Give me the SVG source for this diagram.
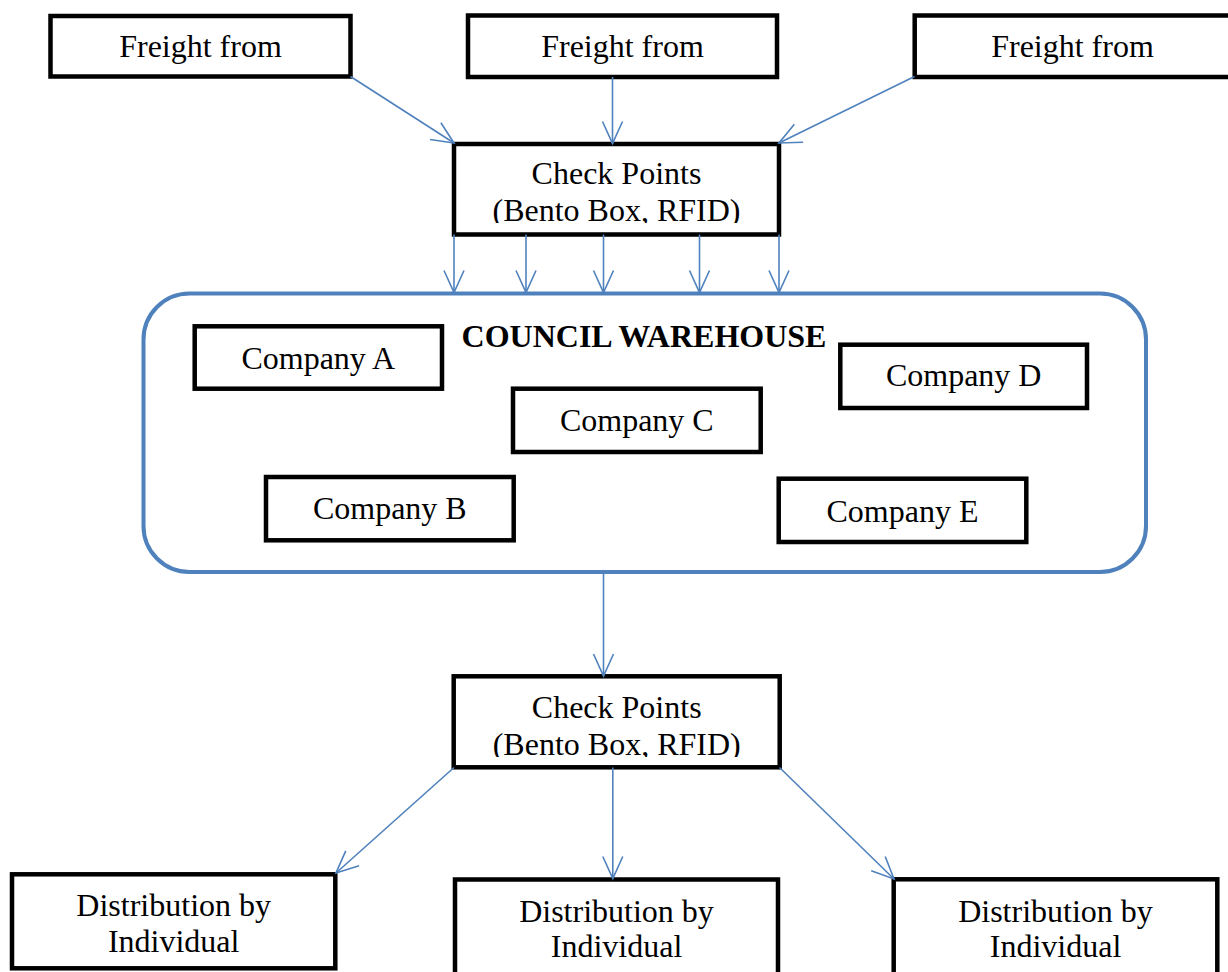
<svg xmlns="http://www.w3.org/2000/svg" width="1228" height="972" viewBox="0 0 1228 972">
<style>
.box{fill:#fff;stroke:#000;stroke-width:4.5}
.t{font-family:"Liberation Serif","Times New Roman",serif;font-size:32px;fill:#000;text-anchor:middle}
.tb{font-weight:bold}
.c{stroke:#4F81BD;stroke-width:1.6;fill:none;marker-end:url(#arr)}
</style>
<defs>
<marker id="arr" markerUnits="userSpaceOnUse" viewBox="-25 -13 27 26" refX="0" refY="0" markerWidth="27" markerHeight="26" orient="auto" overflow="visible">
<path d="M-22,-10 L0,0 L-22,10" fill="none" stroke="#4F81BD" stroke-width="1.6"/>
</marker>
<clipPath id="clip1"><rect x="456" y="146" width="321" height="77"/></clipPath>
<clipPath id="clip2"><rect x="456" y="678" width="321" height="79"/></clipPath>
</defs>
<rect width="1228" height="972" fill="#fff"/>

<g id="warehouse">
<rect x="143.5" y="293.5" width="1002.5" height="278.5" rx="46" fill="#fff" stroke="#4F81BD" stroke-width="4"/>
<text class="t tb" x="644" y="347">COUNCIL WAREHOUSE</text>
</g>

<g id="freight1"><rect class="box" x="50.5" y="16" width="300" height="60.5"/><text class="t" x="200.5" y="57">Freight from</text></g>
<g id="freight2"><rect class="box" x="468" y="15.5" width="309" height="61.5"/><text class="t" x="622.5" y="57">Freight from</text></g>
<g id="freight3"><rect class="box" x="914.7" y="15.5" width="316" height="61.5"/><text class="t" x="1072.5" y="57">Freight from</text></g>

<g id="checkpoint1"><rect class="box" x="454" y="144" width="325" height="90.5"/>
<g clip-path="url(#clip1)"><text class="t" x="616.5" y="184.3">Check Points</text><text class="t" x="616.5" y="220.7">(Bento Box, RFID)</text></g></g>

<g id="companyA"><rect class="box" x="194.7" y="326.3" width="247.3" height="62.4"/><text class="t" x="318.3" y="369.3">Company A</text></g>
<g id="companyB"><rect class="box" x="266" y="477" width="247.7" height="63.3"/><text class="t" x="389.8" y="519.3">Company B</text></g>
<g id="companyC"><rect class="box" x="513" y="388.7" width="247.7" height="63.3"/><text class="t" x="636.8" y="430.7">Company C</text></g>
<g id="companyD"><rect class="box" x="840.3" y="344.7" width="246.7" height="63.3"/><text class="t" x="963.7" y="385.7">Company D</text></g>
<g id="companyE"><rect class="box" x="778.7" y="478.7" width="247.6" height="63.3"/><text class="t" x="902.5" y="521.7">Company E</text></g>

<g id="checkpoint2"><rect class="box" x="453.7" y="676.3" width="326" height="91"/>
<g clip-path="url(#clip2)"><text class="t" x="616.7" y="718.3">Check Points</text><text class="t" x="616.7" y="754.5">(Bento Box, RFID)</text></g></g>

<g id="dist1"><rect class="box" x="12" y="874.3" width="323.3" height="94"/><text class="t" x="173.7" y="915.5">Distribution by</text><text class="t" x="173.7" y="952">Individual</text></g>
<g id="dist2"><rect class="box" x="455" y="879.5" width="323" height="110"/><text class="t" x="616.5" y="921.5">Distribution by</text><text class="t" x="616.5" y="956.5">Individual</text></g>
<g id="dist3"><rect class="box" x="893.7" y="879.3" width="323.6" height="110"/><text class="t" x="1055.5" y="921.7">Distribution by</text><text class="t" x="1055.5" y="956.7">Individual</text></g>

<g id="connectors">
<line class="c" x1="350.5" y1="76.5" x2="454" y2="143"/>
<line class="c" x1="612.5" y1="77" x2="612.5" y2="143.5"/>
<line class="c" x1="914.5" y1="76.5" x2="779" y2="143"/>
<line class="c" x1="454" y1="234.5" x2="454" y2="292.5"/>
<line class="c" x1="526" y1="234.5" x2="526" y2="292.5"/>
<line class="c" x1="603.5" y1="234.5" x2="603.5" y2="292.5"/>
<line class="c" x1="699.5" y1="234.5" x2="699.5" y2="292.5"/>
<line class="c" x1="779" y1="234.5" x2="779" y2="292.5"/>
<line class="c" x1="603.5" y1="572" x2="603.5" y2="676"/>
<line class="c" x1="454" y1="767.5" x2="336" y2="873"/>
<line class="c" x1="612.8" y1="767.5" x2="612.8" y2="878.5"/>
<line class="c" x1="779.5" y1="767.5" x2="894" y2="879"/>
</g>
</svg>
